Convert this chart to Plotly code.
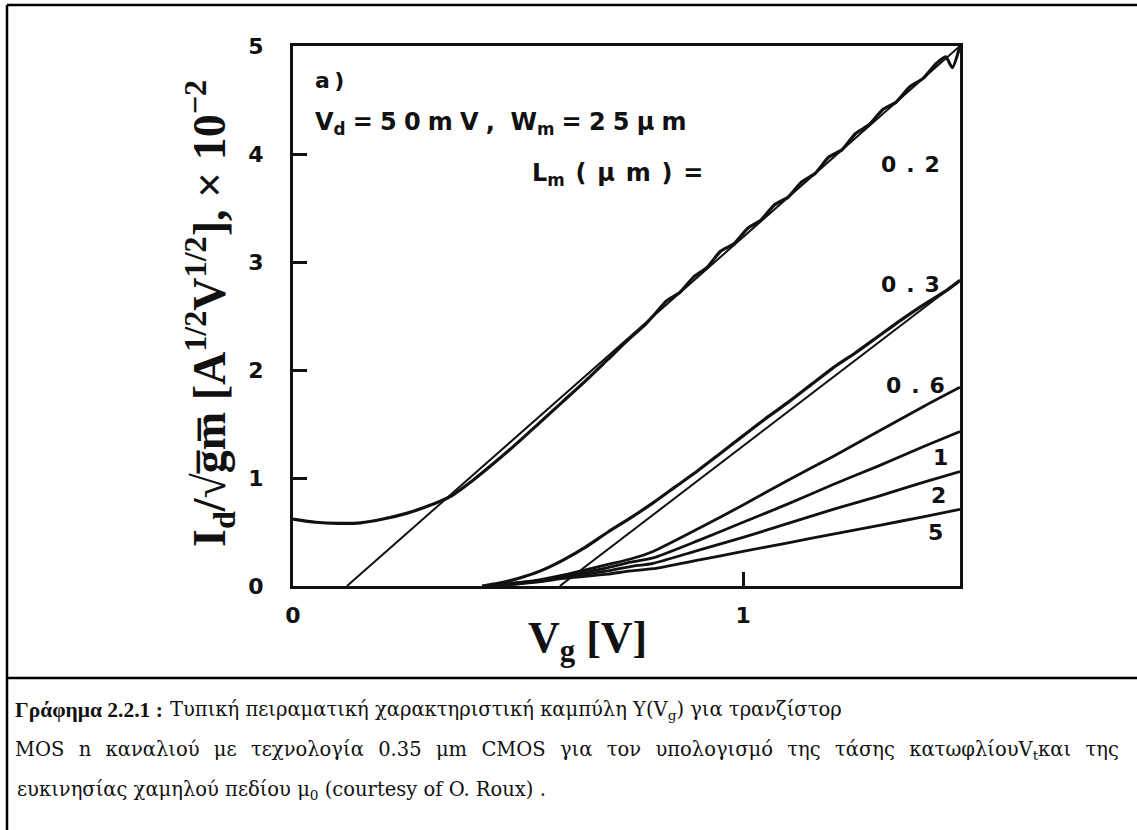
import plotly.graph_objects as go

# ---- data: Y = Id/sqrt(gm) (x 1e-2) versus gate voltage Vg, for several gate lengths
vg_02 = [0.00, 0.05, 0.10, 0.15, 0.20, 0.25, 0.30, 0.35, 0.40, 0.45, 0.50, 0.55, 0.60,
         0.65, 0.70, 0.75, 0.78, 0.80, 0.83, 0.86, 0.89, 0.92, 0.95, 0.98, 1.01, 1.04,
         1.07, 1.10, 1.13, 1.16, 1.19, 1.22, 1.25, 1.28, 1.31, 1.34, 1.37, 1.40, 1.43,
         1.45, 1.465, 1.482]
y_02 = [0.62, 0.59, 0.58, 0.585, 0.62, 0.67, 0.74, 0.83, 0.98, 1.15, 1.33, 1.52, 1.71,
        1.90, 2.10, 2.30, 2.41, 2.50, 2.64, 2.72, 2.86, 2.95, 3.10, 3.17, 3.31, 3.39,
        3.53, 3.60, 3.74, 3.82, 3.97, 4.04, 4.19, 4.27, 4.41, 4.48, 4.62, 4.70, 4.84,
        4.90, 4.80, 5.00]

vg_03 = [0.42, 0.45, 0.50, 0.55, 0.60, 0.65, 0.70, 0.75, 0.80, 0.85, 0.90, 0.95,
         1.00, 1.05, 1.10, 1.15, 1.20, 1.25, 1.30, 1.35, 1.40, 1.45, 1.482]
y_03 = [0.00, 0.02, 0.07, 0.14, 0.24, 0.36, 0.50, 0.63, 0.77, 0.92, 1.07, 1.23,
        1.39, 1.55, 1.70, 1.86, 2.02, 2.16, 2.31, 2.46, 2.60, 2.73, 2.83]

vg_long = [0.44, 0.50, 0.55, 0.60, 0.65, 0.70, 0.75, 0.80, 0.90, 1.00, 1.10,
           1.20, 1.30, 1.40, 1.482]
y_06 = [0.00, 0.03, 0.06, 0.10, 0.15, 0.20, 0.25, 0.32, 0.53, 0.75, 0.98,
        1.20, 1.43, 1.66, 1.84]
y_1 = [0.00, 0.03, 0.05, 0.09, 0.13, 0.17, 0.22, 0.26, 0.42, 0.59, 0.76,
       0.94, 1.11, 1.29, 1.43]
y_2 = [0.00, 0.02, 0.05, 0.08, 0.11, 0.14, 0.18, 0.21, 0.33, 0.45, 0.58,
       0.71, 0.83, 0.96, 1.06]
y_5 = [0.00, 0.02, 0.04, 0.07, 0.09, 0.11, 0.14, 0.16, 0.24, 0.32, 0.40,
       0.48, 0.56, 0.64, 0.71]

# linear extrapolations of the strong-inversion region (threshold at Y = 0)
fit_02_vg = [0.12, 1.482]
fit_02_y = [0.00, 5.00]
fit_03_vg = [0.593, 1.482]
fit_03_y = [0.00, 2.83]

length_labels = ["0.2", "0.3", "0.6", "1", "2", "5"]
x_ticks = [0, 1]
y_ticks = [0, 1, 2, 3, 4, 5]

# ---- page geometry (pixels)
W, H = 1137, 830
L, R, T, B = 293, 960, 46, 586


def px(x):
    return (x - L) / (R - L)


def py(y):
    return (B - y) / (B - T)


fig = go.Figure()

ink = "#111111"
curve_w = 3.2
fit_w = 2.0

for xs, ys in [(fit_02_vg, fit_02_y), (fit_03_vg, fit_03_y)]:
    fig.add_trace(go.Scatter(x=xs, y=ys, mode="lines",
                             line=dict(color=ink, width=fit_w),
                             showlegend=False, hoverinfo="skip"))

fig.add_trace(go.Scatter(x=vg_02, y=y_02, mode="lines",
                         line=dict(color=ink, width=curve_w, shape="spline", smoothing=0.6),
                         name="0.2", showlegend=False))
fig.add_trace(go.Scatter(x=vg_03, y=y_03, mode="lines",
                         line=dict(color=ink, width=curve_w, shape="spline", smoothing=0.6),
                         name="0.3", showlegend=False))
for name, ys in zip(length_labels[2:], [y_06, y_1, y_2, y_5]):
    fig.add_trace(go.Scatter(x=vg_long, y=ys, mode="lines",
                             line=dict(color=ink, width=2.8, shape="spline", smoothing=0.6),
                             name=name, showlegend=False))

tick_font = dict(family="DejaVu Sans", size=22, color=ink, weight="bold")
axis_common = dict(showline=True, linewidth=3, linecolor=ink, mirror=True,
                   ticks="inside", ticklen=14, tickwidth=3, tickcolor=ink,
                   showgrid=False, zeroline=False, tickfont=tick_font)

fig.update_layout(
    width=W, height=H, autosize=False,
    margin=dict(l=L, r=W - R, t=T, b=H - B, pad=0),
    paper_bgcolor="white", plot_bgcolor="white",
    xaxis=dict(range=[0, 1.482], tickvals=x_ticks, ticktext=[str(v) for v in x_ticks],
               ticklabelstandoff=8, **axis_common),
    yaxis=dict(range=[0, 5], tickvals=y_ticks, ticktext=[str(v) for v in y_ticks],
               ticklabelstandoff=22, **axis_common),
)

serif = "Liberation Serif"
caption_font = "DejaVu Serif"
plot_font = "DejaVu Sans"


def spaced(chars, gap):
    return gap.join(chars)


def note(x, y, text, size, family, xanchor="left", angle=0):
    fig.add_annotation(x=px(x), y=py(y), xref="paper", yref="paper", text=text,
                       showarrow=False, xanchor=xanchor, yanchor="middle",
                       textangle=angle,
                       font=dict(family=family, size=size, color=ink))


# axis titles
note(209, 314, "<b>I<sub>d</sub>/√g̅m̅ [A<sup>1/2</sup>V<sup>1/2</sup>], × 10<sup>−2</sup></b>",
     46, serif, xanchor="center", angle=-90)
note(587, 640, "<b>V<sub>g</sub> [V]</b>", 44, serif, xanchor="center")

# in-plot legend text (wide letter spacing as in the lettering of the plot)
g1 = "\u2009\u200a"
g2 = "\u2005\u2009"
note(313, 80, "<b>a\u2009)</b>", 22, plot_font)
note(313, 123, "<b>V<sub>d</sub>" + g1 + spaced("=50mV,", g1) + g1 + " W<sub>m</sub>" + g1
     + spaced("=25µm", g1) + "</b>", 24, plot_font)
note(530, 174, "<b>L<sub>m</sub>" + g2 + spaced("(µm)=", g2) + "</b>", 24, plot_font)

label_pos = [(910, 165), (910, 284), (915, 385), (940, 457), (938, 495), (935, 532)]
for lab, (x, y) in zip(length_labels, label_pos):
    note(x, y, "<b>" + spaced(lab, g2) + "</b>", 22, plot_font, xanchor="center")

# caption (second line justified to the full width)
cap = 19.5
jgap = " \u2006\u2005"
line2_words = ["MOS", "n", "καναλιού", "με", "τεχνολογία", "0.35", "μm", "CMOS", "για",
               "τον", "υπολογισμό", "της", "τάσης", "κατωφλίουV<sub>t</sub>και", "της"]
note(13, 710, "<b>Γράφημα 2.2.1 :</b>", 21.5, serif)
note(168, 710, "Τυπική πειραματική χαρακτηριστική καμπύλη "
     "Y(V<sub>g</sub>) για τρανζίστορ", cap, caption_font)
note(13, 750, jgap.join(line2_words), cap, caption_font)
note(15, 790, "ευκινησίας χαμηλού πεδίου μ<sub>0</sub> (courtesy of O. Roux) .", cap, caption_font)

# page frame and caption separator
frame = dict(color="black", width=2.5)
for x0, y0, x1, y1 in [(7, 5, W + 5, 5), (7, 5, 7, H + 5), (7, 678, W + 5, 678)]:
    fig.add_shape(type="line", xref="paper", yref="paper",
                  x0=px(x0), y0=py(y0), x1=px(x1), y1=py(y1), line=frame)

fig.write_html("out.html")
